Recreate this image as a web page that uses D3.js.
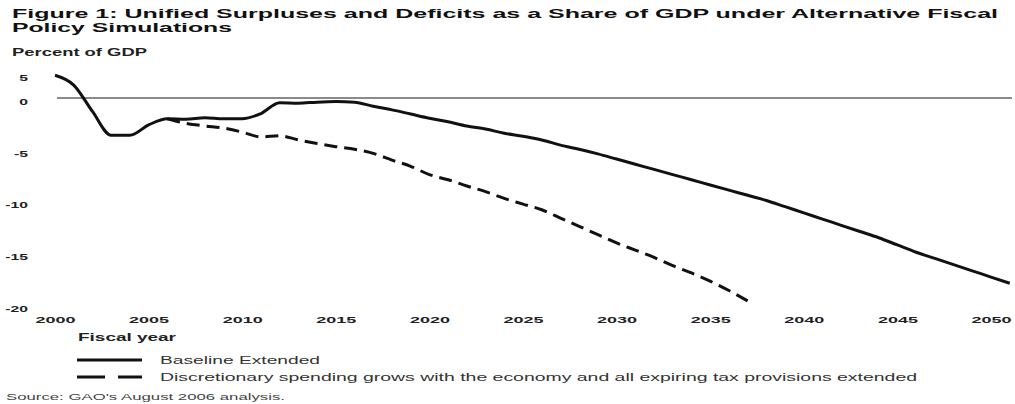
<!DOCTYPE html>
<html>
<head>
<meta charset="utf-8">
<script src="https://cdn.jsdelivr.net/npm/d3@7"></script>
<style>
  body { margin: 0; background: #fff; }
  text { font-family: "Liberation Sans", Arial, sans-serif; }
</style>
</head>
<body>
<div id="chart"></div>
<script>
"use strict";

// data (percent of GDP)
var baselineYears = [2000, 2001, 2002, 2003, 2004, 2005, 2006, 2007, 2008, 2009, 2010,
  2011, 2012, 2013, 2014, 2015, 2016, 2017, 2018, 2019, 2020, 2021, 2022, 2023, 2024, 2025,
  2026, 2027, 2028, 2029, 2030, 2031, 2032, 2033, 2034, 2035, 2036, 2037, 2038, 2039, 2040,
  2041, 2042, 2043, 2044, 2045, 2046, 2047, 2048, 2049, 2050, 2051];
var baselineValues = [2.2, 1.25, -1.3, -3.6, -3.6, -2.6, -2.0, -2.05, -1.9, -2.0, -2.0,
  -1.5, -0.45, -0.5, -0.4, -0.35, -0.4, -0.8, -1.15, -1.55, -1.95, -2.3, -2.7, -3.0, -3.4, -3.7,
  -4.05, -4.55, -4.95, -5.4, -5.9, -6.4, -6.9, -7.4, -7.9, -8.4, -8.9, -9.4, -9.9, -10.5, -11.1,
  -11.7, -12.3, -12.9, -13.5, -14.2, -14.9, -15.5, -16.1, -16.7, -17.3, -17.9];

var altYears = [2006, 2007, 2008, 2009, 2010, 2011, 2012, 2013, 2014, 2015, 2016, 2017,
  2018, 2019, 2020, 2021, 2022, 2023, 2024, 2025, 2026, 2027, 2028, 2029, 2030, 2031,
  2032, 2033, 2034, 2035, 2036, 2037];
var altValues = [-2.0, -2.45, -2.7, -2.9, -3.3, -3.75, -3.65, -4.05, -4.4, -4.7, -4.95, -5.35,
  -6.0, -6.6, -7.4, -7.9, -8.5, -9.05, -9.7, -10.25, -10.8, -11.6, -12.4, -13.2, -14.0, -14.7,
  -15.4, -16.2, -16.9, -17.7, -18.6, -19.6];

var xTicks = [2000, 2005, 2010, 2015, 2020, 2025, 2030, 2035, 2040, 2045, 2050];
var yTicks = [0, -5, -10, -15, -20];
var yTopTick = 2.3; // top label "5" sits at the top of the plot
var yTopLabel = "5";

var titleLines = ["Figure 1: Unified Surpluses and Deficits as a Share of GDP under Alternative Fiscal",
  "Policy Simulations"];
var yTitle = "Percent of GDP";
var xTitle = "Fiscal year";
var legendLabels = ["Baseline Extended",
  "Discretionary spending grows with the economy and all expiring tax provisions extended"];
var sourceNote = "Source: GAO's August 2006 analysis.";

// params
var width = 1015;
var height = 404;
var lineColor = "#111";
var zeroColor = "#8a8a8a";

var svg = d3.select("#chart")
  .append("svg")
  .attr("width", width)
  .attr("height", height);

var x = d3.scaleLinear().domain([2000, 2050]).range([55, 991]);
var y = d3.scaleLinear().domain([-20, 0]).range([305, 98]);

// stretch text horizontally to the given width (the figure is widened)
function fitText(sel, w) {
  sel.attr("textLength", w).attr("lengthAdjust", "spacingAndGlyphs");
}
function stretchText(sel, k) {
  sel.each(function() {
    var w = this.getComputedTextLength();
    d3.select(this).attr("textLength", w * k).attr("lengthAdjust", "spacingAndGlyphs");
  });
}

// title
svg.append("text").attr("x", 12).attr("y", 18)
  .attr("font-size", 13).attr("font-weight", "bold").attr("fill", "#111")
  .text(titleLines[0]).call(fitText, 986);
svg.append("text").attr("x", 12).attr("y", 32)
  .attr("font-size", 13).attr("font-weight", "bold").attr("fill", "#111")
  .text(titleLines[1]).call(fitText, 220);

svg.append("text").attr("x", 12).attr("y", 56)
  .attr("font-size", 10).attr("font-weight", "bold").attr("fill", "#222")
  .text(yTitle).call(fitText, 135);

// zero line
svg.append("line")
  .attr("x1", x(2000) + 2).attr("x2", 1012)
  .attr("y1", y(0)).attr("y2", y(0))
  .attr("stroke", zeroColor).attr("stroke-width", 2);

// y axis labels
var yAxis = d3.axisLeft(y)
  .tickValues([yTopTick].concat(yTicks))
  .tickSize(0)
  .tickPadding(0)
  .tickFormat(function(d) { return d === yTopTick ? yTopLabel : String(d); });
var yG = svg.append("g").attr("transform", "translate(28,0)").call(yAxis);
yG.select(".domain").remove();
yG.selectAll("text")
  .attr("font-family", null).attr("font-size", 9.5).attr("font-weight", "bold")
  .attr("fill", "#222").attr("dy", "0.66em")
  .call(stretchText, 1.65);

// x axis labels
var xAxis = d3.axisBottom(x)
  .tickValues(xTicks)
  .tickSize(0)
  .tickPadding(0)
  .tickFormat(d3.format("d"));
var xG = svg.append("g").attr("transform", "translate(0,316)").call(xAxis);
xG.select(".domain").remove();
xG.selectAll("text")
  .attr("font-family", null).attr("font-size", 9.5).attr("font-weight", "bold")
  .attr("fill", "#222").attr("dy", "0.72em")
  .call(fitText, 40);

svg.append("text").attr("x", 78).attr("y", 341)
  .attr("font-size", 10).attr("font-weight", "bold").attr("fill", "#222")
  .text(xTitle).call(fitText, 98);

// lines
var line = d3.line()
  .x(function(d) { return x(d[0]); })
  .y(function(d) { return y(d[1]); })
  .curve(d3.curveMonotoneX);

svg.append("path")
  .datum(d3.zip(baselineYears, baselineValues))
  .attr("d", line)
  .attr("fill", "none")
  .attr("stroke", lineColor)
  .attr("stroke-width", 3)
  .attr("stroke-linejoin", "round");

svg.append("path")
  .datum(d3.zip(altYears, altValues))
  .attr("d", line)
  .attr("fill", "none")
  .attr("stroke", lineColor)
  .attr("stroke-width", 3)
  .attr("stroke-dasharray", "13,7")
  .attr("stroke-linejoin", "round");

// legend
var legend = svg.append("g");
var legendRows = legend.selectAll("g")
  .data(legendLabels)
  .enter()
  .append("g")
  .attr("transform", function(d, i) { return "translate(0," + (360 + i * 17) + ")"; });
legendRows.append("line")
  .attr("x1", 77).attr("x2", 142)
  .attr("stroke", lineColor).attr("stroke-width", 3)
  .attr("stroke-dasharray", function(d, i) { return i === 0 ? null : "28,13"; });
legendRows.append("text")
  .attr("x", 160).attr("y", 4)
  .attr("font-size", 10).attr("fill", "#333")
  .text(function(d) { return d; })
  .each(function(d, i) { d3.select(this).call(fitText, i === 0 ? 160 : 757); });

svg.append("text").attr("x", 6).attr("y", 400)
  .attr("font-size", 9).attr("fill", "#444")
  .text(sourceNote).call(fitText, 279);
</script>
</body>
</html>
